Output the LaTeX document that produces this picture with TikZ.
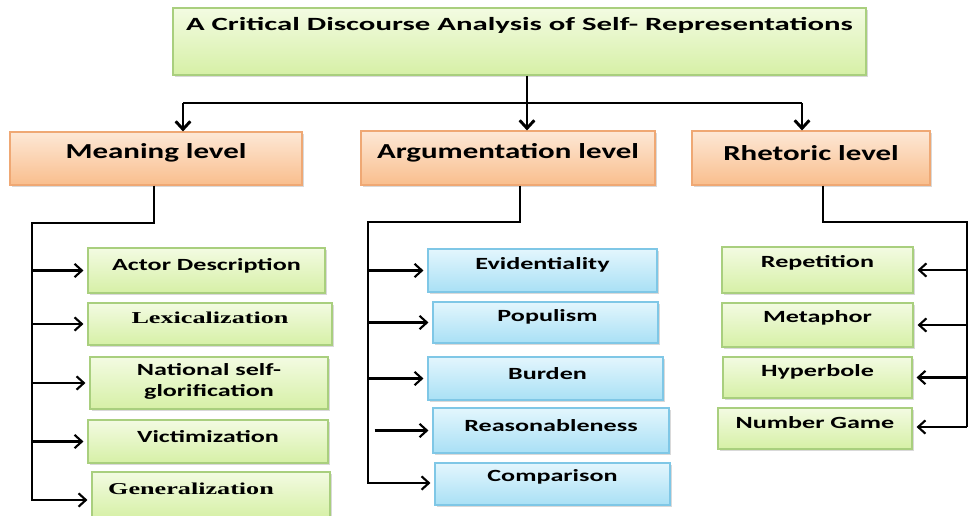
\documentclass[tikz,border=0pt]{standalone}
\usepackage{fontspec}
\usepackage{graphicx}
\setmainfont{Carlito}
\newfontfamily\serifbold{Liberation Serif}
\usetikzlibrary{arrows.meta,fit,shadows}

\definecolor{grtop}{HTML}{F3FBE2}
\definecolor{grbot}{HTML}{D6F0A6}
\definecolor{grline}{HTML}{A9CF7E}
\definecolor{ortop}{HTML}{FDE8D6}
\definecolor{orbot}{HTML}{F9BE8D}
\definecolor{orline}{HTML}{EFA874}
\definecolor{bltop}{HTML}{E3F6FD}
\definecolor{blbot}{HTML}{A9E0F5}
\definecolor{blline}{HTML}{7FC7E6}

% wide lettering used throughout the chart
\newcommand\titlestretch[1]{\scalebox{1.65}[1]{#1}}
\newcommand\levelstretch[1]{\scalebox{1.45}[1]{#1}}
\newcommand\itemstretch[1]{\scalebox{1.53}[1]{#1}}
\newcommand\serifstretch[1]{\scalebox{1.57}[1]{#1}}

\tikzset{
  basebox/.style={inner sep=0pt, line width=0.8pt,
    drop shadow={shadow xshift=1.2pt, shadow yshift=-1.2pt, opacity=0.3}},
  greenbox/.style={basebox, draw=grline, top color=grtop, bottom color=grbot},
  orangebox/.style={basebox, draw=orline, top color=ortop, bottom color=orbot},
  bluebox/.style={basebox, draw=blline, top color=bltop, bottom color=blbot},
  titletext/.style={font=\fontsize{14}{17}\selectfont\bfseries},
  leveltext/.style={font=\fontsize{16}{19}\selectfont\bfseries},
  itemtext/.style={font=\fontsize{12.8}{15.75}\selectfont\bfseries, align=center},
  serifitem/.style={font=\serifbold\fontsize{12.5}{15}\selectfont\bfseries},
  bus/.style={line width=2.2pt, line join=miter},
  topwire/.style={line width=2.2pt, -{Straight Barb[length=6pt,width=11pt]}},
  feed/.style={line width=1.6pt, -{Straight Barb[length=5.5pt,width=10pt]}, shorten >=3pt},
}

\begin{document}
\begin{tikzpicture}[x=0.75pt,y=-0.75pt]
\useasboundingbox (0,0) rectangle (969,516);

% title
\node[greenbox, fit={(173,8) (866,75)}] (title) {};
\node[titletext] (titleT) at ([yshift=12pt]title.center) {\titlestretch{A Critical Discourse Analysis of Self- Representations}};

% level boxes
\node[orangebox, fit={(10,132) (302,185)}] (mean) {};
\node[leveltext] (meanT) at ([yshift=4pt]mean.center) {\levelstretch{Meaning level}};
\node[orangebox, fit={(361,131) (655,185)}] (argu) {};
\node[leveltext] (arguT) at ([yshift=4pt]argu.center) {\levelstretch{Argumentation level}};
\node[orangebox, fit={(692,131) (930,185)}] (rhet) {};
\node[leveltext] (rhetT) at ([yshift=4pt]rhet.center) {\levelstretch{Rhetoric level}};

% meaning items
\node[greenbox, fit={(88,248) (325,293)}] (actor) {};
\node[itemtext] (actorT) at ([yshift=3.5pt]actor.center) {\itemstretch{Actor Description}};
\node[greenbox, fit={(88,303) (332,345)}] (lexi) {};
\node[serifitem] (lexiT) at ([yshift=4.5pt]lexi.center) {\serifstretch{Lexicalization}};
\node[greenbox, fit={(90,357) (328,409)}] (natl) {};
\node[itemtext] (natlT) at ([yshift=1pt]natl.center) {\itemstretch{\begin{tabular}{@{}c@{}}National self-\\glorification\end{tabular}}};
\node[greenbox, fit={(88,420) (328,463)}] (vict) {};
\node[itemtext] (victT) at ([yshift=4pt]vict.center) {\itemstretch{Victimization}};
\node[greenbox, fit={(92,472) (330,518)}] (gene) {};
\node[serifitem] (geneT) at ([xshift=-15pt,yshift=5pt]gene.center) {\serifstretch{Generalization}};

% argumentation items
\node[bluebox, fit={(428,249) (657,292)}] (evid) {};
\node[itemtext] (evidT) at ([yshift=4.5pt]evid.center) {\itemstretch{Evidentiality}};
\node[bluebox, fit={(433,302) (658,343)}] (popu) {};
\node[itemtext] (popuT) at ([xshift=1.5pt,yshift=4pt]popu.center) {\itemstretch{Populism}};
\node[bluebox, fit={(428,357) (663,400)}] (burd) {};
\node[itemtext] (burdT) at ([xshift=1.5pt,yshift=4pt]burd.center) {\itemstretch{Burden}};
\node[bluebox, fit={(433,408) (669,453)}] (reas) {};
\node[itemtext] (reasT) at ([yshift=4pt]reas.center) {\itemstretch{Reasonableness}};
\node[bluebox, fit={(435,463) (670,505)}] (comp) {};
\node[itemtext] (compT) at ([yshift=5pt]comp.center) {\itemstretch{Comparison}};

% rhetoric items
\node[greenbox, fit={(722,247) (913,293)}] (repe) {};
\node[itemtext] (repeT) at ([yshift=5pt]repe.center) {\itemstretch{Repetition}};
\node[greenbox, fit={(722,303) (913,347)}] (meta) {};
\node[itemtext] (metaT) at ([yshift=5pt]meta.center) {\itemstretch{Metaphor}};
\node[greenbox, fit={(723,357) (912,398)}] (hype) {};
\node[itemtext] (hypeT) at ([yshift=4pt]hype.center) {\itemstretch{Hyperbole}};
\node[greenbox, fit={(718,408) (912,449)}] (numb) {};
\node[itemtext] (numbT) at ([yshift=4.5pt]numb.center) {\itemstretch{Number Game}};

% title to levels
\coordinate (hub) at (527,103);
\coordinate (hubL) at (183,103);
\coordinate (hubR) at (802,103);
\draw[bus] (title.south -| hub) -- (hub);
\draw[bus] (hubL) -- (hubR);
\draw[topwire] (hubL) -- (hubL |- mean.north);
\draw[topwire] (hub) -- (hub |- argu.north);
\draw[topwire] (hubR) -- (hubR |- rhet.north);

% meaning bus
\coordinate (mA) at (154,223);
\coordinate (mB) at (32,223);
\coordinate (mC) at (32,500);
\draw[bus] (mA |- mean.south) -- (mA) -- (mB) -- (mC) -- ++(2,0);
\draw[feed] (mB |- actor.west) -- (actor.west);
\draw[feed] (mB |- lexi.west) -- (lexi.west);
\draw[feed] (mB |- natl.west) -- (natl.west);
\draw[feed] (mB |- vict.west) -- (vict.west);
\draw[feed] (mC) -- (mC -| gene.west);

% argumentation bus
\coordinate (aA) at (520,222);
\coordinate (aB) at (368,222);
\coordinate (aC) at (368,483);
\draw[bus] (aA |- argu.south) -- (aA) -- (aB) -- (aC) -- ++(2,0);
\draw[feed] (aB |- evid.west) -- (evid.west);
\draw[feed] (aB |- popu.west) -- (popu.west);
\draw[feed] (aB |- burd.west) -- (burd.west);
\draw[feed] ([xshift=5pt]aB |- reas.west) -- (reas.west);
\draw[feed] (aC) -- (aC -| comp.west);

% rhetoric bus
\coordinate (rA) at (823,222);
\coordinate (rB) at (967,222);
\coordinate (rC) at (967,427);
\draw[bus] (rA |- rhet.south) -- (rA) -- (rB) -- (rC);
\draw[feed] (rB |- repe.east) -- (repe.east);
\draw[feed] (rB |- meta.east) -- (meta.east);
\draw[feed] (rB |- hype.east) -- (hype.east);
\draw[feed] (rC) -- (rC -| numb.east);
\end{tikzpicture}
\end{document}
